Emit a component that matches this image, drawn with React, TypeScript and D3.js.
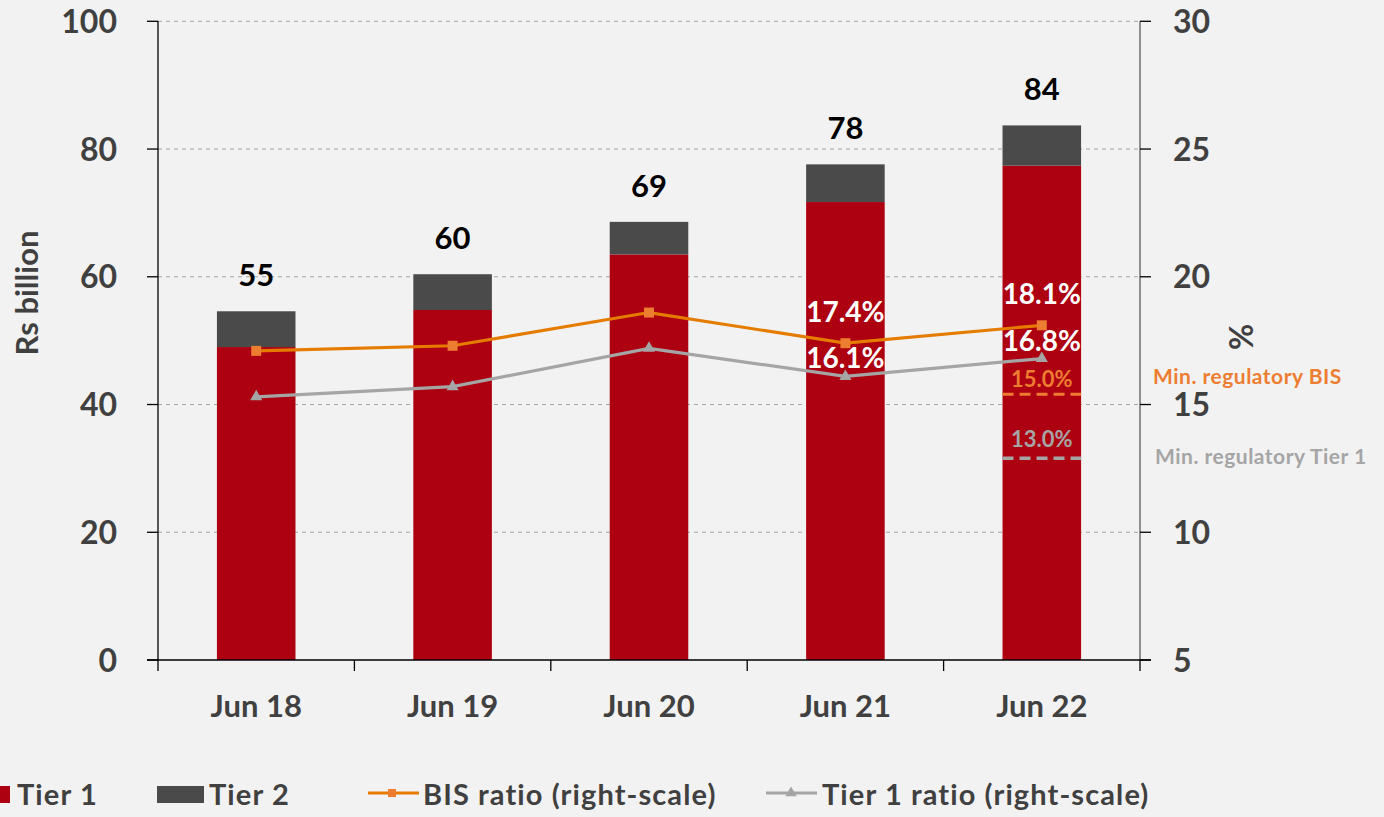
import React from "react";
import * as d3 from "d3";

const categories = ["Jun 18", "Jun 19", "Jun 20", "Jun 21", "Jun 22"];
const tier1 = [49.0, 54.8, 63.5, 71.7, 77.4];
const tier2 = [5.6, 5.6, 5.1, 5.9, 6.3];
const bisRatio = [17.1, 17.3, 18.6, 17.4, 18.1];
const tier1Ratio = [15.3, 15.7, 17.2, 16.1, 16.8];
const ratioLabelIdx = [3, 4];
const leftTicks = [0, 20, 40, 60, 80, 100];
const rightTicks = [5, 10, 15, 20, 25, 30];
const minRegRatio = [15.0, 13.0];
const minRegLevel = [15.4, 12.9];
const minRegNames = ["Min. regulatory BIS", "Min. regulatory Tier 1"];

const W = 1384;
const H = 817;
const FONT = "Lato, 'Open Sans', sans-serif";
const RED = "#AD0010";
const DARK = "#4A4A4A";
const ORANGE_LINE = "#E57C00";
const ORANGE = "#ED7D31";
const GRAY = "#A5A5A5";
const TEXT = "#404040";

export default function App() {
  const x = d3.scaleBand<string>().domain(categories).range([158, 1140]).padding(0);
  const yL = d3.scaleLinear().domain([0, 100]).range([660, 21.3]);
  const yR = d3.scaleLinear().domain([5, 30]).range([660, 21.3]);
  const bw = x.bandwidth();
  const barW = bw * 0.4;
  const cx = (c: string) => (x(c) as number) + bw / 2;

  const line = d3
    .line<number>()
    .x((_, i) => cx(categories[i]))
    .y((d) => yR(d));

  const sq = d3.symbol().type(d3.symbolSquare).size(100)();
  const tri = d3.symbol().type(d3.symbolTriangle).size(64)();
  const triSmall = d3.symbol().type(d3.symbolTriangle).size(56)();

  const boundaries = categories.map((c) => x(c) as number).concat([1140]);
  const last = categories[categories.length - 1];
  const lastX0 = cx(last) - barW / 2;

  return (
    <div style={{ position: "fixed", left: 0, top: 0, width: W, height: H, background: "#F2F2F2" }}>
      <svg width={W} height={H} style={{ display: "block", fontFamily: FONT, fontWeight: 700 }}>
        <rect x={0} y={0} width={W} height={H} fill="#F2F2F2" />
        {/* gridlines */}
        {leftTicks.filter((t) => t > 0).map((t) => (
          <line key={"g" + t} x1={158} x2={1140} y1={yL(t)} y2={yL(t)} stroke="#A6A6A6" strokeWidth={1} strokeDasharray="4,4" />
        ))}
        {/* bars */}
        {categories.map((c, i) => (
          <g key={"b" + c}>
            <rect x={cx(c) - barW / 2} width={barW} y={yL(tier1[i])} height={yL(0) - yL(tier1[i])} fill={RED} />
            <rect
              x={cx(c) - barW / 2}
              width={barW}
              y={yL(tier1[i] + tier2[i])}
              height={yL(tier1[i]) - yL(tier1[i] + tier2[i])}
              fill={DARK}
            />
            <text x={cx(c)} y={yL(tier1[i] + tier2[i]) - 25} textAnchor="middle" fontSize={31} fill="#000">
              {Math.round(tier1[i] + tier2[i])}
            </text>
          </g>
        ))}
        {/* min regulatory lines */}
        {minRegLevel.map((v, i) => (
          <g key={"m" + i}>
            <line
              x1={lastX0}
              x2={lastX0 + barW}
              y1={yR(v)}
              y2={yR(v)}
              stroke={i === 0 ? ORANGE : GRAY}
              strokeWidth={i === 0 ? 3 : 3.5}
              strokeDasharray="11,6"
            />
            <text
              x={cx(last)}
              y={yR(v) - (i === 0 ? 7 : 11)}
              textAnchor="middle"
              fontSize={22}
              fill={i === 0 ? ORANGE : GRAY}
            >
              {minRegRatio[i].toFixed(1) + "%"}
            </text>
            <text
              x={i === 0 ? 1153 : 1155}
              y={yR(v) - (i === 0 ? 10 : -6)}
              fontSize={21}
              letterSpacing={0.5}
              fill={i === 0 ? ORANGE : GRAY}
            >
              {minRegNames[i]}
            </text>
          </g>
        ))}
        {/* lines */}
        <path d={line(tier1Ratio) || ""} fill="none" stroke={GRAY} strokeWidth={3.2} />
        <path d={line(bisRatio) || ""} fill="none" stroke={ORANGE_LINE} strokeWidth={3.2} />
        {bisRatio.map((v, i) => (
          <path key={"s" + i} d={sq || ""} transform={`translate(${cx(categories[i])},${yR(v)})`} fill={ORANGE} />
        ))}
        {tier1Ratio.map((v, i) => (
          <path key={"t" + i} d={tri || ""} transform={`translate(${cx(categories[i])},${yR(v)})`} fill={GRAY} />
        ))}
        {ratioLabelIdx.map((i) => (
          <g key={"rl" + i}>
            <text x={cx(categories[i])} y={yR(bisRatio[i]) - 21} textAnchor="middle" fontSize={28} fill="#fff">
              {bisRatio[i].toFixed(1) + "%"}
            </text>
            <text x={cx(categories[i])} y={yR(tier1Ratio[i]) - 8} textAnchor="middle" fontSize={28} fill="#fff">
              {tier1Ratio[i].toFixed(1) + "%"}
            </text>
          </g>
        ))}
        {/* left axis */}
        <line x1={158} x2={158} y1={yL(100)} y2={yL(0)} stroke="#000" strokeWidth={1.3} />
        {leftTicks.map((t) => (
          <g key={"lt" + t}>
            <line x1={147} x2={158} y1={yL(t)} y2={yL(t)} stroke="#000" strokeWidth={1.3} />
            <text x={117} y={yL(t)} dy="0.36em" textAnchor="end" fontSize={32} fill={TEXT}>
              {t}
            </text>
          </g>
        ))}
        {/* right axis */}
        <line x1={1140} x2={1140} y1={yR(30)} y2={yR(5)} stroke="#6E6E6E" strokeWidth={1.5} />
        {rightTicks.map((t) => (
          <g key={"rt" + t}>
            <line x1={1140} x2={1151} y1={yR(t)} y2={yR(t)} stroke="#000" strokeWidth={1.3} />
            <text x={1173} y={yR(t)} dy="0.36em" textAnchor="start" fontSize={32} fill={TEXT}>
              {t}
            </text>
          </g>
        ))}
        {/* bottom axis */}
        <line x1={147} x2={1151} y1={yL(0)} y2={yL(0)} stroke="#000" strokeWidth={1.3} />
        {boundaries.map((b, i) => (
          <line key={"bt" + i} x1={b} x2={b} y1={yL(0)} y2={yL(0) + 11} stroke="#000" strokeWidth={1.3} />
        ))}
        {categories.map((c) => (
          <text key={"c" + c} x={cx(c)} y={717} textAnchor="middle" fontSize={31} fill={TEXT}>
            {c}
          </text>
        ))}
        {/* axis titles */}
        <text transform="translate(38,293) rotate(-90)" textAnchor="middle" fontSize={31} fill={TEXT}>
          Rs billion
        </text>
        <text transform="translate(1253,337) rotate(-90)" textAnchor="middle" fontSize={32} fill={TEXT}>
          %
        </text>
        {/* legend */}
        <g fontSize={29} fill={TEXT} letterSpacing={1.1}>
          <rect x={-7} y={786} width={17} height={17} fill={RED} />
          <text x={17} y={805}>Tier 1</text>
          <rect x={157} y={786} width={47} height={17} fill={DARK} />
          <text x={209} y={805}>Tier 2</text>
          <line x1={368} x2={419} y1={793} y2={793} stroke={ORANGE_LINE} strokeWidth={3} />
          <path d={sq || ""} transform="translate(392,793) scale(0.8)" fill={ORANGE} />
          <text x={423} y={805}>BIS ratio (right-scale)</text>
          <line x1={766} x2={817} y1={793} y2={793} stroke={GRAY} strokeWidth={3} />
          <path d={triSmall || ""} transform="translate(791,793)" fill={GRAY} />
          <text x={822} y={805}>Tier 1 ratio (right-scale)</text>
        </g>
      </svg>
    </div>
  );
}
